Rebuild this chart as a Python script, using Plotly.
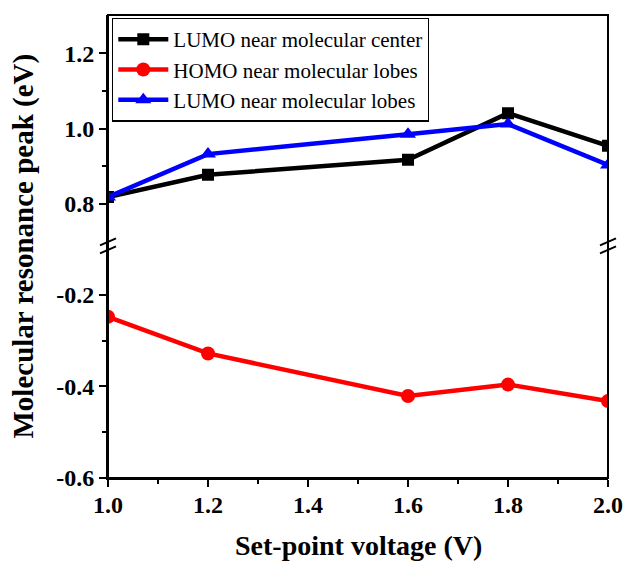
import plotly.graph_objects as go

x_vals = [1.0, 1.2, 1.6, 1.8, 2.0]
lumo_center = [0.818, 0.877, 0.917, 1.041, 0.954]
homo_lobes = [-0.248, -0.328, -0.421, -0.396, -0.432]
lumo_lobes = [0.818, 0.932, 0.985, 1.012, 0.903]
names = ["LUMO near molecular center", "HOMO near molecular lobes", "LUMO near molecular lobes"]

x_ticks = [1.0, 1.2, 1.4, 1.6, 1.8, 2.0]
x_ticktext = ["1.0", "1.2", "1.4", "1.6", "1.8", "2.0"]
upper_ticks = [0.8, 1.0, 1.2]
upper_ticktext = ["0.8", "1.0", "1.2"]
lower_ticks = [-0.6, -0.4, -0.2]
lower_ticktext = ["-0.6", "-0.4", "-0.2"]

FONT = "Liberation Serif, Times New Roman, serif"
split = 0.5014

fig = go.Figure()
fig.add_trace(go.Scatter(x=x_vals, y=lumo_center, name=names[0], mode="lines+markers",
                         line=dict(color="#000000", width=4.5),
                         marker=dict(symbol="square", size=12, color="#000000"),
                         xaxis="x", yaxis="y"))
fig.add_trace(go.Scatter(x=x_vals, y=homo_lobes, name=names[1], mode="lines+markers",
                         line=dict(color="#ff0000", width=4.5),
                         marker=dict(symbol="circle", size=14, color="#ff0000"),
                         xaxis="x", yaxis="y2"))
fig.add_trace(go.Scatter(x=x_vals, y=lumo_lobes, name=names[2], mode="lines+markers",
                         line=dict(color="#0000ff", width=4.5),
                         marker=dict(symbol="triangle-up", size=14, color="#0000ff"),
                         xaxis="x", yaxis="y"))

tickfont = dict(family=FONT, size=24, color="black", weight="bold")
common_axis = dict(showline=True, linecolor="black", linewidth=2, ticks="outside",
                   ticklen=7, tickwidth=2, tickcolor="black", showgrid=False,
                   zeroline=False, tickfont=tickfont, automargin=False)

fig.update_layout(
    width=627, height=563,
    margin=dict(l=108, r=19, t=15, b=85),
    paper_bgcolor="white", plot_bgcolor="white",
    font=dict(family=FONT, color="black"),
    showlegend=True,
    legend=dict(x=0.008, y=0.994, xanchor="left", yanchor="top",
                bgcolor="white", bordercolor="black", borderwidth=1.3,
                font=dict(family=FONT, size=21, color="black"),
                itemwidth=50, tracegroupgap=0),
    xaxis=dict(range=[1.0, 2.0], tickvals=x_ticks, ticktext=x_ticktext, anchor="y2",
               ticklabelstandoff=-3,
               minor=dict(tickvals=[1.1, 1.3, 1.5, 1.7, 1.9], ticks="outside", ticklen=4,
                          tickwidth=2, tickcolor="black"),
               **common_axis),
    yaxis=dict(domain=[split, 1], range=[0.688, 1.302], tickvals=upper_ticks,
               ticktext=upper_ticktext, anchor="x",
               minor=dict(tickvals=[0.9, 1.1], ticks="outside", ticklen=4,
                          tickwidth=2, tickcolor="black"),
               **common_axis),
    yaxis2=dict(domain=[0, split], range=[-0.6, -0.093], tickvals=lower_ticks,
                ticktext=lower_ticktext, anchor="x",
                minor=dict(tickvals=[-0.5, -0.3], ticks="outside", ticklen=4,
                           tickwidth=2, tickcolor="black"),
                **common_axis),
)

# frame
fig.add_shape(type="rect", xref="paper", yref="paper", x0=0, y0=0, x1=1, y1=1,
              line=dict(color="black", width=2), layer="above")

# axis break marks
for xp in (0, 1):
    for dy in (-4, 4):
        fig.add_shape(type="line", xref="paper", yref="paper",
                      xsizemode="pixel", ysizemode="pixel", xanchor=xp, yanchor=split,
                      x0=-8, x1=8, y0=dy - 3.5, y1=dy + 3.5,
                      line=dict(color="black", width=2))

# axis titles
fig.add_annotation(text="<b>Set-point voltage (V)</b>", xref="paper", yref="paper",
                   x=0.5, y=0, yshift=-67, xanchor="center", yanchor="middle",
                   showarrow=False, font=dict(family=FONT, size=28, color="black"))
fig.add_annotation(text="<b>Molecular resonance peak (eV)</b>", xref="paper", yref="paper",
                   x=0, y=0.5, xshift=-85, xanchor="center", yanchor="middle", textangle=-90,
                   showarrow=False, font=dict(family=FONT, size=29, color="black"))

fig.write_html("out.html")
